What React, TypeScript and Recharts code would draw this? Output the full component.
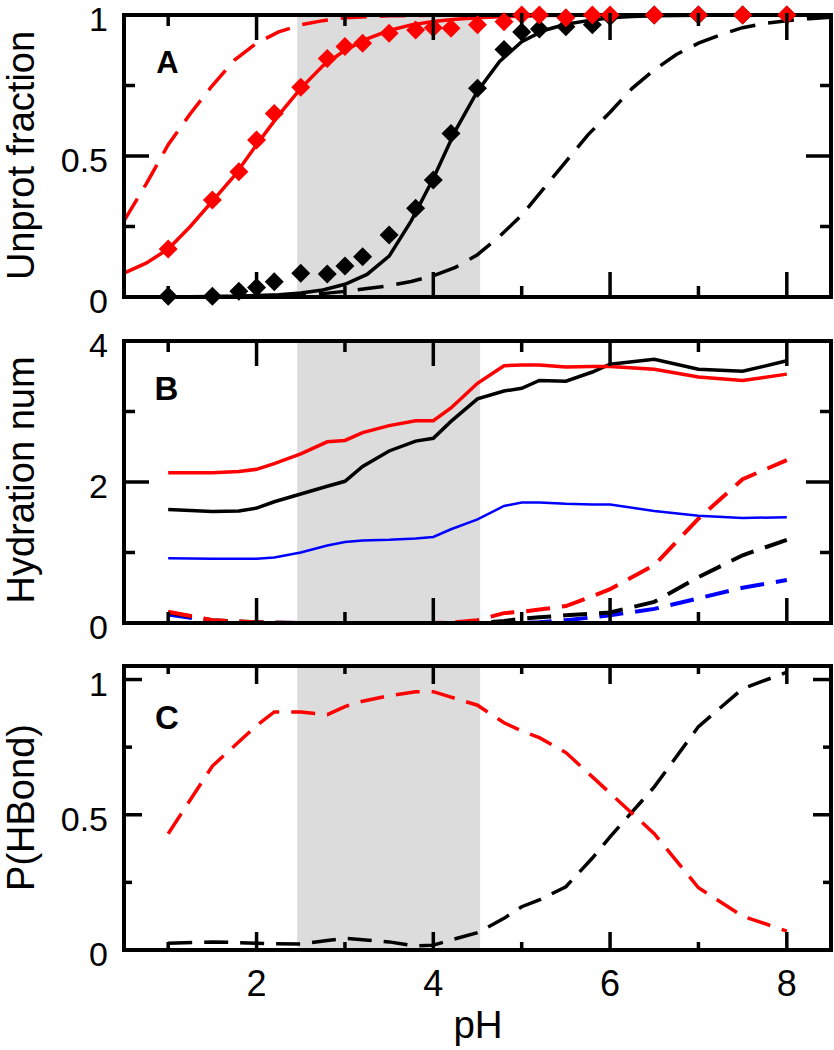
import { ComposedChart, Line, ReferenceArea, XAxis, YAxis } from "recharts"

const FONT = '"Liberation Sans", Arial, Helvetica, sans-serif'

// shaded pH window
const shadeFrom = 2.46
const shadeTo = 4.53

const xTicks = [1, 2, 3, 4, 5, 6, 7, 8]

// Panel A: fitted curves on a 0.25 grid
const fitPH = [0.5, 0.75, 1, 1.25, 1.5, 1.75, 2, 2.25, 2.5, 2.75, 3, 3.25, 3.5, 3.75, 4, 4.25, 4.5, 4.75, 5, 5.25, 5.5, 5.75, 6, 6.25, 6.5, 6.75, 7, 7.25, 7.5, 7.75, 8, 8.25, 8.5]
const redDashA = [0.27, 0.4, 0.54, 0.65, 0.75, 0.84, 0.9, 0.94, 0.965, 0.98, 0.99, 0.994, 0.997, 0.998, 0.999, 1, 1, 1, 1, 1, 1, 1, 1, 1, 1, 1, 1, 1, 1, 1, 1, 1, 1]
const redFitA = [0.085, 0.12, 0.17, 0.25, 0.34, 0.43, 0.54, 0.645, 0.74, 0.82, 0.875, 0.915, 0.945, 0.965, 0.977, 0.985, 0.99, 0.994, 0.996, 0.998, 0.999, 1, 1, 1, 1, 1, 1, 1, 1, 1, 1, 1, 1]
const blackFitA = [0, 0, 0.001, 0.001, 0.002, 0.003, 0.005, 0.008, 0.014, 0.025, 0.045, 0.08, 0.145, 0.27, 0.42, 0.59, 0.73, 0.835, 0.905, 0.945, 0.967, 0.98, 0.99, 0.995, 0.997, 0.998, 0.999, 1, 1, 1, 1, 1, 1]
const blackDashA = [0, 0, 0, 0, 0.001, 0.002, 0.003, 0.004, 0.007, 0.012, 0.02, 0.03, 0.04, 0.055, 0.075, 0.105, 0.15, 0.215, 0.29, 0.385, 0.48, 0.575, 0.655, 0.74, 0.805, 0.86, 0.9, 0.93, 0.955, 0.97, 0.98, 0.987, 0.992]

// simulated pH values (shared by A, B, C)
const simPH = [1.0, 1.5, 1.8, 2.0, 2.2, 2.5, 2.8, 3.0, 3.2, 3.5, 3.8, 4.0, 4.2, 4.5, 4.8, 5.0, 5.2, 5.5, 5.8, 6.0, 6.5, 7.0, 7.5, 8.0]
const redPtsA = [0.17, 0.344, 0.444, 0.557, 0.651, 0.744, 0.846, 0.888, 0.9, 0.935, 0.947, 0.955, 0.953, 0.965, 0.976, 1, 1, 0.99, 1, 1, 1, 1, 1, 1]
const blackPtsA = [0.003, 0.003, 0.02, 0.034, 0.054, 0.084, 0.082, 0.11, 0.143, 0.22, 0.315, 0.415, 0.58, 0.74, 0.878, 0.94, 0.95, 0.958, 0.965, 0.995, 1, 1, 1, 1]

// Panel B: hydration numbers
const redB = [2.13, 2.13, 2.15, 2.18, 2.26, 2.4, 2.57, 2.59, 2.7, 2.8, 2.87, 2.87, 3.05, 3.4, 3.65, 3.66, 3.66, 3.63, 3.64, 3.64, 3.6, 3.49, 3.44, 3.53]
const blackB = [1.61, 1.58, 1.59, 1.63, 1.72, 1.83, 1.94, 2.01, 2.22, 2.44, 2.58, 2.62, 2.86, 3.18, 3.29, 3.33, 3.44, 3.43, 3.56, 3.67, 3.74, 3.6, 3.57, 3.72]
const blueB = [0.92, 0.91, 0.91, 0.91, 0.93, 1.0, 1.1, 1.15, 1.17, 1.18, 1.2, 1.22, 1.33, 1.47, 1.66, 1.71, 1.71, 1.69, 1.68, 1.68, 1.59, 1.52, 1.49, 1.5]
const redDashB = [0.16, 0.04, 0.02, 0.01, 0.005, 0, 0, 0, 0, 0, 0, 0, 0.005, 0.04, 0.14, 0.16, 0.19, 0.24, 0.38, 0.48, 0.82, 1.48, 2.04, 2.31]
const blackDashB = [0.15, 0.04, 0.02, 0.01, 0.005, 0, 0, 0, 0, 0, 0, 0, 0, 0, 0.03, 0.06, 0.08, 0.11, 0.13, 0.15, 0.3, 0.65, 0.96, 1.18]
const blueDashB = [0.12, 0.03, 0.015, 0.008, 0.003, 0, 0, 0, 0, 0, 0, 0, 0, 0, 0, 0, 0.01, 0.04, 0.08, 0.11, 0.2, 0.35, 0.5, 0.61]

// Panel C: H-bond probability
const redC = [0.43, 0.68, 0.77, 0.83, 0.88, 0.88, 0.87, 0.9, 0.92, 0.94, 0.955, 0.955, 0.935, 0.905, 0.84, 0.81, 0.785, 0.73, 0.64, 0.58, 0.43, 0.23, 0.125, 0.07]
const blackC = [0.025, 0.03, 0.027, 0.025, 0.023, 0.022, 0.035, 0.043, 0.038, 0.03, 0.015, 0.018, 0.037, 0.064, 0.117, 0.16, 0.185, 0.234, 0.34, 0.418, 0.603, 0.826, 0.966, 1.027]

const toRows = (xs: number[], ys: number[]) => xs.map((pH, i) => ({ pH, v: ys[i] }))

const fmt = (v: number) => String(v)

function xTick(side: "top" | "bottom", major: number, minor: number, label: boolean) {
  return (p: any) => {
    const v = p.payload.value
    const isMajor = v % 2 === 0
    const len = isMajor ? major : minor
    const dir = side === "bottom" ? -1 : 1
    return (
      <g key={`${side}-${v}`}>
        <line x1={p.x} x2={p.x} y1={p.y} y2={p.y + dir * len} stroke="#000" strokeWidth={3.5} />
        {label && isMajor && (
          <text x={p.x} y={p.y + 44} textAnchor="middle" fontSize={36} fontFamily={FONT} fill="#000">
            {fmt(v)}
          </text>
        )}
      </g>
    )
  }
}

function yTick(side: "left" | "right", majors: number[], major: number, minor: number) {
  return (p: any) => {
    const v = p.payload.value
    const isMajor = majors.includes(v)
    const len = isMajor ? major : minor
    const dir = side === "left" ? 1 : -1
    return (
      <g key={`${side}-${v}`}>
        <line x1={p.x} x2={p.x + dir * len} y1={p.y} y2={p.y} stroke="#000" strokeWidth={3.5} />
        {side === "left" && isMajor && (
          <text x={p.x - 14} y={p.y + 16} textAnchor="end" fontSize={34} fontFamily={FONT} fill="#000">
            {fmt(v)}
          </text>
        )}
      </g>
    )
  }
}

const diamond = (color: string) => (p: any) => {
  if (p.cx == null || p.cy == null) return <g key={`e-${p.index}`} />
  const r = 9.5
  return (
    <polygon
      key={`d-${color}-${p.index}`}
      points={`${p.cx},${p.cy - r} ${p.cx + r},${p.cy} ${p.cx},${p.cy + r} ${p.cx - r},${p.cy}`}
      fill={color}
    />
  )
}

const border = { stroke: "#000", strokeWidth: 4, strokeLinecap: "square" as const }

// the plot box of each panel, in page pixels: left 124, right 831
function Panel(props: {
  pageTop: number
  height: number
  plotTop: number
  plotBottom: number
  xAxisHeight: number
  yDomain: [number, number]
  yTicks: number[]
  yMajors: number[]
  tickMajor: number
  tickMinor: number
  showXLabels: boolean
  children: any
}) {
  const { pageTop, height, plotTop, plotBottom, xAxisHeight, yDomain, yTicks, yMajors, tickMajor, tickMinor, showXLabels } = props
  // axes need a size > 0 to draw their ticks, so the mirror axes get 1px
  const top = plotTop - pageTop - 1
  const bottom = pageTop + height - plotBottom - xAxisHeight
  // invisible two-point series so the top / right mirror axes get a scale
  const frame = [
    { pH: 0.5, v: yDomain[0] },
    { pH: 8.5, v: yDomain[1] },
  ]
  return (
    <div style={{ position: "absolute", left: 0, top: pageTop }}>
      <ComposedChart width={834} height={height} margin={{ top, right: 2, left: 0, bottom }}>
        <XAxis
          dataKey="pH"
          type="number"
          domain={[0.5, 8.5]}
          ticks={xTicks}
          interval={0}
          height={xAxisHeight}
          tickSize={0}
          tickLine={false}
          axisLine={border}
          tick={xTick("bottom", tickMajor, tickMinor, showXLabels)}
        />
        <XAxis
          xAxisId="t"
          dataKey="pH"
          type="number"
          orientation="top"
          domain={[0.5, 8.5]}
          ticks={xTicks}
          interval={0}
          height={1}
          tickSize={0}
          tickLine={false}
          axisLine={border}
          tick={xTick("top", tickMajor, tickMinor, false)}
        />
        <YAxis
          type="number"
          domain={yDomain}
          ticks={yTicks}
          interval={0}
          width={124}
          tickSize={0}
          tickLine={false}
          axisLine={border}
          tick={yTick("left", yMajors, tickMajor, tickMinor)}
        />
        <YAxis
          yAxisId="r"
          type="number"
          orientation="right"
          domain={yDomain}
          ticks={yTicks}
          interval={0}
          width={1}
          tickSize={0}
          tickLine={false}
          axisLine={border}
          tick={yTick("right", yMajors, tickMajor, tickMinor)}
        />
        <ReferenceArea x1={shadeFrom} x2={shadeTo} fill="#dcdcdc" fillOpacity={1} stroke="none" />
        <Line
          xAxisId="t"
          yAxisId="r"
          data={frame}
          dataKey="v"
          stroke="none"
          dot={false}
          activeDot={false}
          legendType="none"
          isAnimationActive={false}
        />
        {props.children}
      </ComposedChart>
    </div>
  )
}

const line = (key: string, rows: any[], color: string, width: number, dash?: string) => (
  <Line
    key={key}
    data={rows}
    dataKey="v"
    type="linear"
    stroke={color}
    strokeWidth={width}
    strokeDasharray={dash}
    dot={false}
    activeDot={false}
    isAnimationActive={false}
  />
)

const points = (key: string, rows: any[], color: string) => (
  <Line
    key={key}
    data={rows}
    dataKey="v"
    stroke="none"
    strokeWidth={0}
    dot={diamond(color)}
    activeDot={false}
    isAnimationActive={false}
  />
)

export default function App() {
  return (
    <div style={{ position: "absolute", left: 0, top: 0, width: 834, height: 1050, background: "#fff", fontFamily: FONT }}>
      <Panel pageTop={0} height={330} plotTop={15} plotBottom={297} xAxisHeight={1} yDomain={[0, 1]} yTicks={[0, 0.25, 0.5, 0.75, 1]} yMajors={[0, 0.5, 1]} tickMajor={27} tickMinor={13} showXLabels={false}>
        {line("rdA", toRows(fitPH, redDashA), "#ff0000", 3.5, "26 13")}
        {line("bdA", toRows(fitPH, blackDashA), "#000", 3.5, "26 13")}
        {line("bfA", toRows(fitPH, blackFitA), "#000", 3.5)}
        {line("rfA", toRows(fitPH, redFitA), "#ff0000", 3.5)}
        {points("bpA", toRows(simPH, blackPtsA), "#000")}
        {points("rpA", toRows(simPH, redPtsA), "#ff0000")}
      </Panel>
      <Panel pageTop={315} height={340} plotTop={341} plotBottom={623} xAxisHeight={1} yDomain={[0, 4]} yTicks={[0, 1, 2, 3, 4]} yMajors={[0, 2, 4]} tickMajor={27} tickMinor={13} showXLabels={false}>
        {line("buB", toRows(simPH, blueDashB), "#0000ff", 4, "24 12")}
        {line("bkB", toRows(simPH, blackDashB), "#000", 4, "24 12")}
        {line("rdB", toRows(simPH, redDashB), "#ff0000", 4, "24 12")}
        {line("bsB", toRows(simPH, blueB), "#0000ff", 2.5)}
        {line("ksB", toRows(simPH, blackB), "#000", 3.5)}
        {line("rsB", toRows(simPH, redB), "#ff0000", 3.5)}
      </Panel>
      <Panel pageTop={640} height={410} plotTop={666} plotBottom={950} xAxisHeight={100} yDomain={[0, 1.05]} yTicks={[0, 0.25, 0.5, 0.75, 1]} yMajors={[0, 0.5, 1]} tickMajor={20} tickMinor={10} showXLabels={true}>
        {line("kC", toRows(simPH, blackC), "#000", 3.5, "24 12")}
        {line("rC", toRows(simPH, redC), "#ff0000", 3.5, "24 12")}
      </Panel>
      <svg width={834} height={1050} style={{ position: "absolute", left: 0, top: 0, pointerEvents: "none" }}>
        <g fontFamily={FONT} fill="#000">
          <text transform="translate(34,155.5) rotate(-90)" textAnchor="middle" fontSize={38}>Unprot fraction</text>
          <text transform="translate(34,480) rotate(-90)" textAnchor="middle" fontSize={38}>Hydration num</text>
          <text transform="translate(34,807.5) rotate(-90)" textAnchor="middle" fontSize={38}>P(HBond)</text>
          <text x={478} y={1038} textAnchor="middle" fontSize={38.5}>pH</text>
          <text x={167.5} y={73} textAnchor="middle" fontSize={31} fontWeight="bold">A</text>
          <text x={166.5} y={400} textAnchor="middle" fontSize={33} fontWeight="bold">B</text>
          <text x={167} y={729} textAnchor="middle" fontSize={33} fontWeight="bold">C</text>
        </g>
      </svg>
    </div>
  )
}
